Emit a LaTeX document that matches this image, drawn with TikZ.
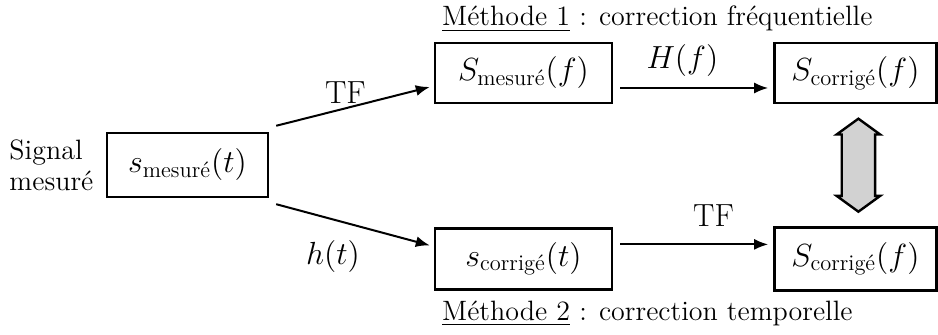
\RequirePackage{fix-cm}
\documentclass[tikz,border=0pt]{standalone}
\usepackage{amsmath}
\usepackage{fontspec}
\usepackage{tikz}
\usetikzlibrary{arrows.meta,positioning,shapes.arrows,calc}

\begin{document}
\begin{tikzpicture}[
x=0.5pt, y=-0.5pt,
box/.style={draw, line width=1.2pt, minimum width=88.5pt, minimum height=30pt, inner sep=0pt, font=\fontsize{16}{19}\selectfont},
arr/.style={-{Latex[length=7pt,width=5.5pt]}, line width=1pt},
lbl/.style={inner sep=2pt, font=\fontsize{16}{19}\selectfont},
txt/.style={inner sep=0pt, font=\fontsize{14}{15.5}\selectfont}
]
\useasboundingbox (0,0) rectangle (938,335);
\node[box, minimum width=80.5pt, minimum height=32pt] (smes) at (187.5,165) {$s_{\text{mesuré}}(t)$};
\node[txt, align=left, left=6pt of smes] (sig) {Signal\\mesuré};
\node[box] (Smes) at (523.5,73) {$S_{\text{mesuré}}(f)$};
\node[box, minimum width=81pt, right=80pt of Smes] (Scor1) {$S_{\text{corrigé}}(f)$};
\node[box, minimum height=30.5pt, below=61.5pt of Smes] (scor) {$s_{\text{corrigé}}(t)$};
\node[box, minimum width=81pt, minimum height=31.5pt, right=80pt of scor] (Scor2) {$S_{\text{corrigé}}(f)$};
\node[txt, anchor=base west] (meth1) at ([xshift=4pt, yshift=8pt]Smes.north west) {\underline{Méthode 1} : correction fréquentielle};
\node[txt, anchor=base west] (meth2) at ([xshift=4pt, yshift=-15pt]scor.south west) {\underline{Méthode 2} : correction temporelle};
\draw[arr] ([xshift=3.5pt, yshift=3pt]smes.north east) -- node[lbl, pos=.45, above] {TF} ([xshift=-2pt, yshift=-7pt]Smes.west);
\draw[arr] ([xshift=3.5pt, yshift=-3pt]smes.south east) -- node[lbl, pos=.37, below=8pt] {$h(t)$} ([xshift=-2pt, yshift=6.75pt]scor.west);
\draw[arr] ([xshift=3.5pt, yshift=-7.5pt]Smes.east) -- node[lbl, pos=.42, above=3pt] {$H(f)$} ([xshift=-2.5pt, yshift=-7.5pt]Scor1.west);
\draw[arr] ([xshift=3.5pt, yshift=7.25pt]scor.east) -- node[lbl, pos=.63, above=6.5pt] {TF} ([xshift=-2.5pt, yshift=7.25pt]Scor2.west);
\node[double arrow, draw, line width=1.2pt, fill=gray!35, rotate=90, minimum height=46.5pt, minimum width=0pt, double arrow head extend=2.5pt, double arrow tip angle=108, inner xsep=0pt, inner ysep=7.75pt] (equiv) at ($(Scor1.south)!.5!(Scor2.north)+(1.5pt,0)$) {};
\end{tikzpicture}
\end{document}
